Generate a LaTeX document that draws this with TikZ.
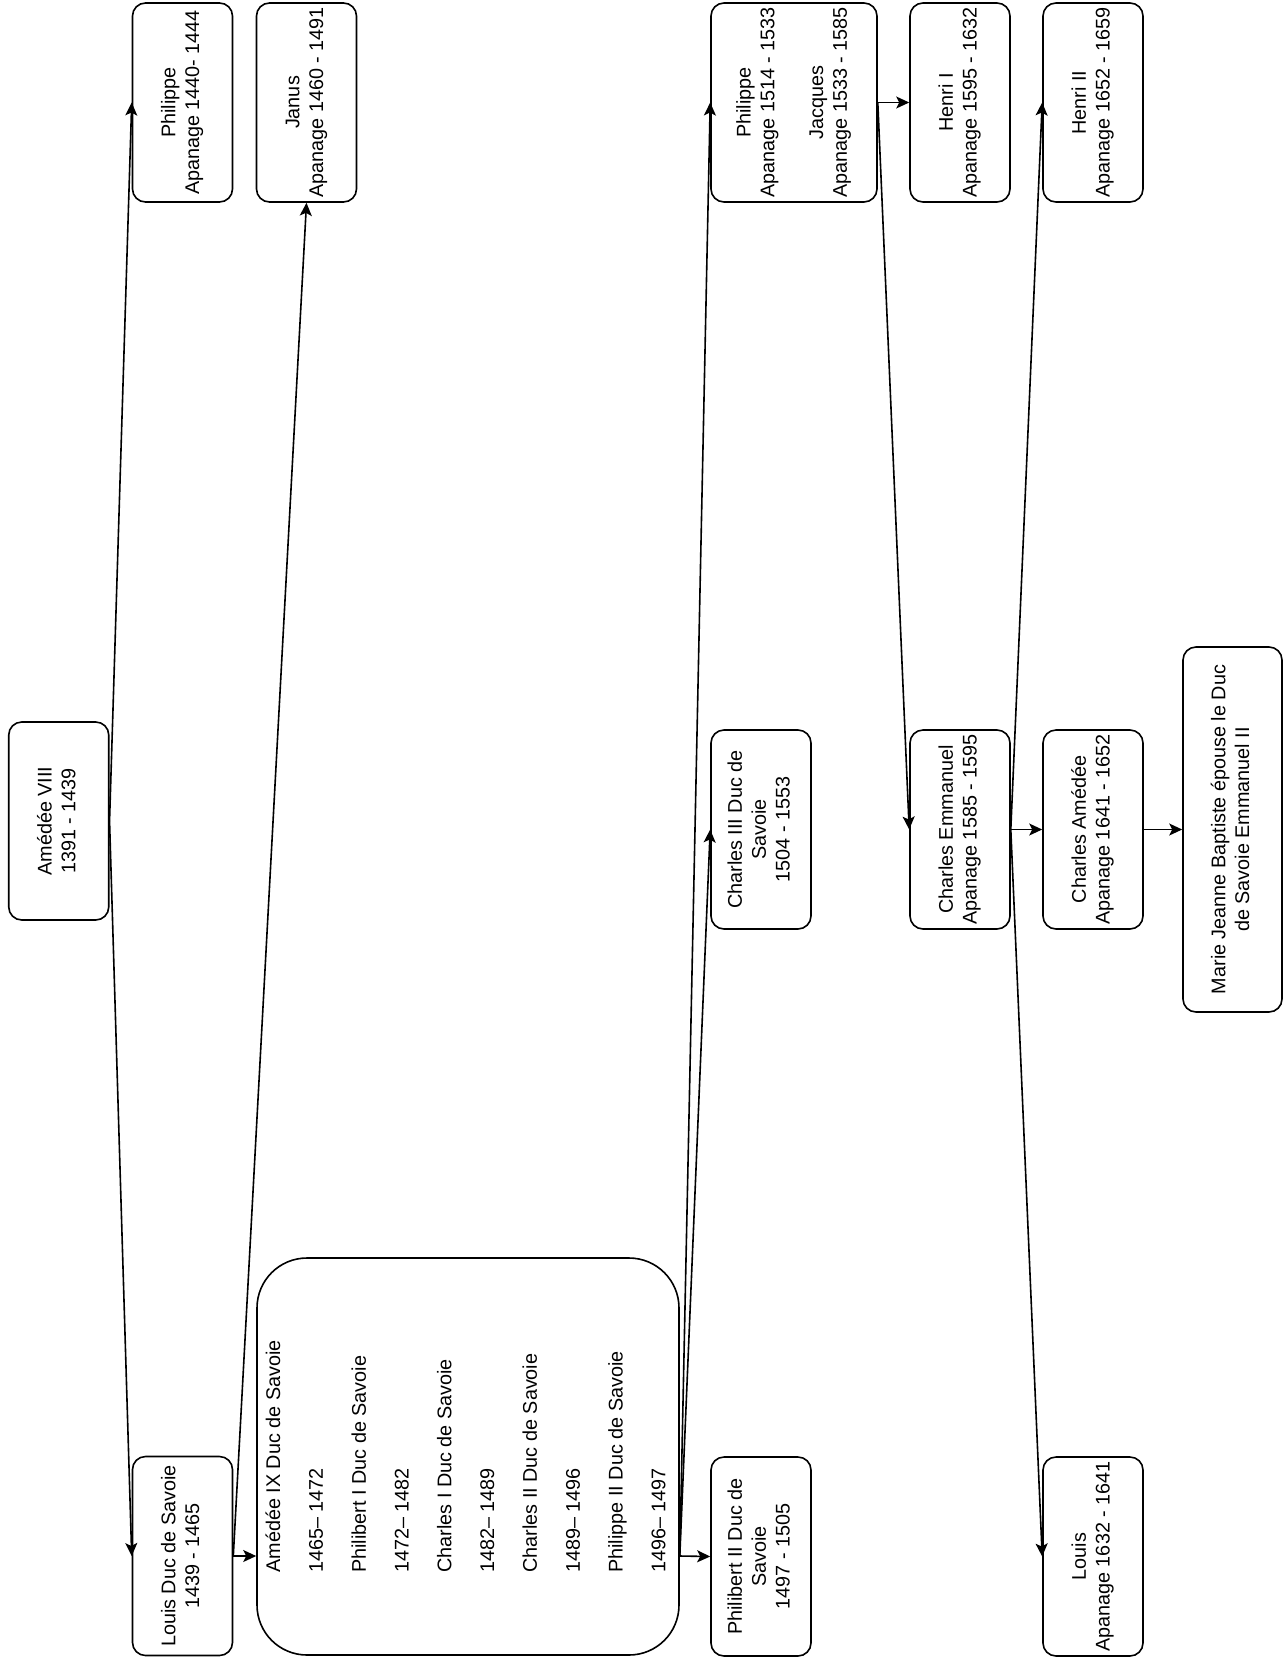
\documentclass[tikz,border=0pt]{standalone}
\usepackage{fontspec}
\setmainfont{Liberation Sans}
\usepackage{graphicx}
\usetikzlibrary{arrows.meta}

\newcommand{\vlabel}[1]{\rotatebox{90}{\begin{tabular}{@{}c@{}}#1\end{tabular}}}

\begin{document}
\begin{tikzpicture}[x=1pt,y=-1pt,
		font=\fontsize{19.8}{23.8}\selectfont,
		famille/.style={draw,rounded corners=13pt,line width=1.6pt,minimum width=100pt,minimum height=199pt,inner sep=0pt},
		lien/.style={line width=1.6pt,-{Stealth[length=13pt,width=12pt,inset=3pt]}}]
			\useasboundingbox (0,0) rectangle (1287,1658);

			\node[famille,minimum height=198pt] (amedee) at (58.75,821) {\vlabel{Amédée VIII\\1391 - 1439}};
			\node[famille] (philippeA) at (182.5,102.5) {\vlabel{Philippe\\Apanage 1440- 1444}};
			\node[famille] (louisD) at (182.5,1556) {\vlabel{Louis Duc de Savoie\\1439 - 1465}};
			\node[famille] (janus) at (306.5,102.5) {\vlabel{Janus\\Apanage 1460 - 1491}};
			\node[famille,rounded corners=50pt,minimum width=422pt,minimum height=397pt] (ducs) at (468,1456.5)
			{
				\rotatebox{90}{
					\begin{tabular}{@{}l@{}}
						Amédée IX Duc de Savoie\\[19pt]
						1465– 1472\\[19pt]
						Philibert I Duc de Savoie\\[19pt]
						1472– 1482\\[19pt]
						Charles I Duc de Savoie\\[19pt]
						1482– 1489\\[19pt]
						Charles II Duc de Savoie\\[19pt]
						1489– 1496\\[19pt]
						Philippe II Duc de Savoie\\[19pt]
						1496– 1497
					\end{tabular}
				}
			};
			\node[famille,minimum width=166pt] (philjac) at (794,102.5) {\vlabel{Philippe\\Apanage 1514 - 1533\\[25pt]Jacques\\Apanage 1533 - 1585}};
			\node[famille] (charlesIII) at (761,829.5) {\vlabel{Charles III Duc de\\Savoie\\1504 - 1553}};
			\node[famille] (philibert) at (761,1556.5) {\vlabel{Philibert II Duc de\\Savoie\\1497 - 1505}};
			\node[famille] (henriI) at (960,102.5) {\vlabel{Henri I\\Apanage 1595 - 1632}};
			\node[famille] (charlesEm) at (960,829.5) {\vlabel{Charles Emmanuel\\Apanage 1585 - 1595}};
			\node[famille] (henriII) at (1093,102.5) {\vlabel{Henri II\\Apanage 1652 - 1659}};
			\node[famille] (charlesAm) at (1093,829.5) {\vlabel{Charles Amédée\\Apanage 1641 - 1652}};
			\node[famille] (louisA) at (1093,1556.5) {\vlabel{Louis\\Apanage 1632 - 1641}};
			\node[famille,minimum width=99pt,minimum height=365pt] (marie) at (1232.5,829.5) {\vlabel{Marie Jeanne Baptiste épouse le Duc\\de Savoie Emmanuel II}};

			\coordinate (ducsIn) at (ducs.west |- louisD.east);
			\coordinate (ducsOut) at (ducs.east |- louisD.east);

			\draw[lien] (amedee.east) -- (philippeA.west);
			\draw[lien] (amedee.east) -- (louisD.west);
			\draw[lien] (louisD.east) -- (janus.south);
			\draw[lien] (louisD.east) -- (ducsIn);
			\draw[lien] (ducsOut) -- (philibert.west);
			\draw[lien] (ducsOut) -- (charlesIII.west);
			\draw[lien] (ducsOut) -- (philjac.west);
			\draw[lien] (philjac.east) -- (henriI.west);
			\draw[lien] (philjac.east) -- (charlesEm.west);
			\draw[lien] (charlesEm.east) -- (charlesAm.west);
			\draw[lien] (charlesEm.east) -- (henriII.west);
			\draw[lien] (charlesEm.east) -- (louisA.west);
			\draw[lien] (charlesAm.east) -- (marie.west);
		\end{tikzpicture}
\end{document}
